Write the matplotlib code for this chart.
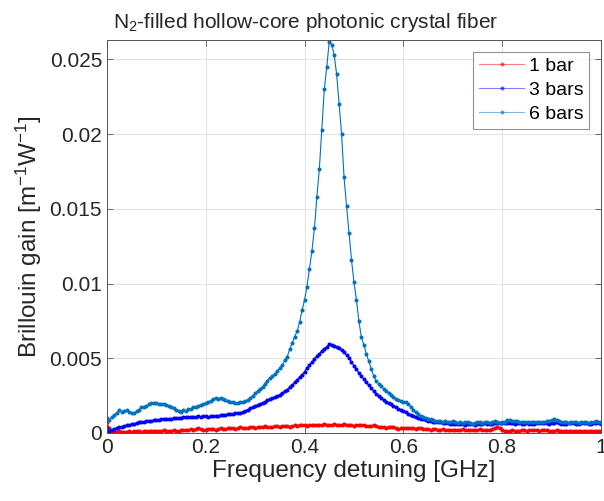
import matplotlib
matplotlib.use('Agg')
import matplotlib.pyplot as plt
import numpy as np
from matplotlib.ticker import FormatStrFormatter

plt.rcParams['font.family'] = ['Liberation Sans', 'DejaVu Sans']
plt.rcParams['mathtext.fontset'] = 'custom'
plt.rcParams['mathtext.rm'] = 'Liberation Sans'
plt.rcParams['mathtext.it'] = 'Liberation Sans:italic'

# frequency detuning grid [GHz], 0.005 GHz step
freq = np.round(np.arange(201) * 0.005, 3)

# Brillouin gain, in units of 1e-3 m^-1 W^-1
gain_1bar = [
    0.70, 0.30, 0.12, 0.08, 0.08, 0.10, 0.08, 0.06, 0.08, 0.10,
    0.08, 0.10, 0.12, 0.10, 0.08, 0.10, 0.12, 0.10, 0.12, 0.14,
    0.12, 0.10, 0.14, 0.16, 0.12, 0.10, 0.14, 0.18, 0.15, 0.12,
    0.18, 0.22, 0.20, 0.18, 0.25, 0.22, 0.28, 0.32, 0.26, 0.22,
    0.20, 0.25, 0.28, 0.24, 0.20, 0.26, 0.30, 0.28, 0.25, 0.30,
    0.35, 0.30, 0.28, 0.32, 0.36, 0.34, 0.30, 0.35, 0.40, 0.38,
    0.34, 0.38, 0.42, 0.40, 0.45, 0.42, 0.38, 0.42, 0.46, 0.44,
    0.40, 0.44, 0.48, 0.45, 0.42, 0.46, 0.50, 0.48, 0.52, 0.55,
    0.50, 0.48, 0.52, 0.50, 0.55, 0.52, 0.50, 0.54, 0.58, 0.55,
    0.52, 0.55, 0.58, 0.56, 0.52, 0.55, 0.58, 0.55, 0.52, 0.50,
    0.48, 0.52, 0.55, 0.52, 0.50, 0.48, 0.45, 0.48, 0.50, 0.46,
    0.40, 0.42, 0.38, 0.35, 0.40, 0.42, 0.38, 0.32, 0.28, 0.32,
    0.35, 0.32, 0.30, 0.34, 0.30, 0.28, 0.32, 0.30, 0.26, 0.28,
    0.25, 0.22, 0.26, 0.24, 0.20, 0.22, 0.25, 0.22, 0.18, 0.22,
    0.20, 0.18, 0.22, 0.20, 0.24, 0.22, 0.18, 0.20, 0.22, 0.18,
    0.20, 0.24, 0.22, 0.20, 0.18, 0.22, 0.28, 0.35, 0.42, 0.32,
    0.22, 0.15, 0.12, 0.14, 0.16, 0.14, 0.12, 0.15, 0.18, 0.16,
    0.14, 0.16, 0.18, 0.20, 0.16, 0.14, 0.18, 0.20, 0.18, 0.15,
    0.12, 0.14, 0.16, 0.14, 0.12, 0.10, 0.12, 0.14, 0.12, 0.10,
    0.12, 0.14, 0.12, 0.10, 0.12, 0.14, 0.12, 0.10, 0.12, 0.14,
    0.12,
]

gain_3bar = [
    0.30, 0.15, 0.18, 0.25, 0.32, 0.38, 0.42, 0.46, 0.50, 0.55,
    0.58, 0.62, 0.66, 0.70, 0.72, 0.74, 0.78, 0.80, 0.82, 0.85,
    0.88, 0.88, 0.90, 0.92, 0.92, 0.94, 0.96, 0.98, 1.00, 1.00,
    1.02, 1.04, 1.05, 1.06, 1.06, 1.08, 1.08, 1.10, 1.09, 1.10,
    1.10, 1.08, 1.10, 1.12, 1.14, 1.15, 1.17, 1.20, 1.22, 1.24,
    1.25, 1.28, 1.30, 1.32, 1.35, 1.40, 1.48, 1.55, 1.65, 1.72,
    1.80, 1.88, 1.95, 2.02, 2.10, 2.18, 2.25, 2.32, 2.40, 2.48,
    2.55, 2.65, 2.78, 2.90, 3.05, 3.20, 3.38, 3.55, 3.72, 3.90,
    4.10, 4.35, 4.55, 4.75, 4.95, 5.12, 5.30, 5.48, 5.62, 5.78,
    5.92, 5.88, 5.82, 5.75, 5.68, 5.55, 5.40, 5.20, 5.00, 4.75,
    4.50, 4.25, 4.02, 3.80, 3.58, 3.38, 3.18, 2.98, 2.80, 2.62,
    2.45, 2.32, 2.20, 2.10, 2.02, 1.92, 1.82, 1.72, 1.62, 1.55,
    1.48, 1.38, 1.28, 1.20, 1.12, 1.05, 1.00, 0.95, 0.90, 0.86,
    0.82, 0.80, 0.76, 0.74, 0.72, 0.70, 0.68, 0.66, 0.64, 0.62,
    0.60, 0.58, 0.62, 0.60, 0.58, 0.56, 0.60, 0.62, 0.58, 0.55,
    0.57, 0.60, 0.62, 0.64, 0.60, 0.58, 0.62, 0.65, 0.68, 0.66,
    0.64, 0.66, 0.68, 0.66, 0.64, 0.62, 0.65, 0.63, 0.60, 0.62,
    0.64, 0.62, 0.60, 0.62, 0.64, 0.66, 0.68, 0.66, 0.64, 0.62,
    0.65, 0.68, 0.70, 0.66, 0.62, 0.60, 0.62, 0.64, 0.66, 0.63,
    0.60, 0.62, 0.64, 0.66, 0.63, 0.60, 0.62, 0.65, 0.67, 0.64,
    0.62,
]

gain_6bar = [
    1.00, 0.87, 1.05, 1.20, 1.35, 1.50, 1.42, 1.48, 1.52, 1.40,
    1.32, 1.30, 1.45, 1.55, 1.70, 1.75, 1.82, 1.90, 1.98, 2.02,
    2.00, 1.95, 1.90, 1.92, 1.85, 1.78, 1.70, 1.66, 1.55, 1.48,
    1.42, 1.50, 1.45, 1.58, 1.62, 1.70, 1.75, 1.82, 1.88, 1.92,
    1.98, 2.05, 2.15, 2.25, 2.32, 2.30, 2.35, 2.28, 2.22, 2.15,
    2.10, 2.05, 1.98, 2.02, 2.10, 2.08, 2.12, 2.20, 2.35, 2.50,
    2.65, 2.80, 2.95, 3.10, 3.30, 3.50, 3.68, 3.80, 3.95, 4.15,
    4.35, 4.55, 4.85, 5.10, 5.60, 6.00, 6.45, 6.80, 7.40, 8.20,
    8.90, 9.80, 11.0, 12.2, 13.7, 15.8, 17.7, 20.3, 23.0, 24.5,
    26.2, 26.0, 25.3, 24.0, 22.0, 20.0, 17.1, 15.2, 13.4, 11.6,
    10.1, 8.90, 7.50, 6.40, 5.90, 5.30, 4.80, 4.30, 3.80, 3.45,
    3.30, 3.15, 2.95, 2.80, 2.70, 2.55, 2.40, 2.30, 2.20, 2.15,
    2.10, 2.05, 1.92, 1.75, 1.55, 1.38, 1.25, 1.15, 1.08, 1.00,
    0.95, 0.90, 0.85, 0.80, 0.82, 0.78, 0.75, 0.80, 0.72, 0.70,
    0.78, 0.74, 0.68, 0.72, 0.65, 0.70, 0.75, 0.68, 0.62, 0.66,
    0.70, 0.72, 0.65, 0.70, 0.74, 0.68, 0.72, 0.78, 0.70, 0.66,
    0.72, 0.75, 0.88, 0.85, 0.80, 0.82, 0.78, 0.75, 0.72, 0.76,
    0.70, 0.72, 0.72, 0.70, 0.74, 0.70, 0.72, 0.75, 0.78, 0.82,
    0.86, 0.90, 0.86, 0.80, 0.74, 0.72, 0.70, 0.68, 0.72, 0.75,
    0.70, 0.68, 0.72, 0.74, 0.70, 0.68, 0.72, 0.75, 0.78, 0.74,
    0.72,
]

series = [
    (gain_1bar, '1 bar', '#ff0000'),
    (gain_3bar, '3 bars', '#0000ff'),
    (gain_6bar, '6 bars', '#0072bd'),
]

fig = plt.figure(figsize=(6.04, 5.01), dpi=100)
ax = fig.add_axes([0.177, 0.136, 0.818, 0.784])

for vals, label, color in series:
    ax.plot(freq, np.array(vals) * 1e-3, color=color, lw=0.8,
            marker='.', ms=3.8, label=label)

ax.set_xlim(0, 1)
ax.set_ylim(0, 0.0263)
ax.set_xticks([0, 0.2, 0.4, 0.6, 0.8, 1])
ax.set_yticks([0, 0.005, 0.01, 0.015, 0.02, 0.025])
ax.xaxis.set_major_formatter(FormatStrFormatter('%g'))
ax.yaxis.set_major_formatter(FormatStrFormatter('%g'))

ax.grid(True, color='#e3e3e3', lw=0.8)
ax.set_axisbelow(True)
ax.tick_params(direction='in', length=4, width=0.6, colors='#555555',
               labelcolor='#262626', labelsize=15, top=True, right=True)
for sp in ax.spines.values():
    sp.set_color('#555555')
    sp.set_linewidth(0.7)

ax.set_xlabel('Frequency detuning [GHz]', fontsize=17.5, color='#262626', labelpad=2)
ax.set_ylabel(r'Brillouin gain [m$^{\mathregular{-1}}$W$^{\mathregular{-1}}$]',
              fontsize=17.5, color='#262626', labelpad=4)
ax.set_title(r'N$_{\mathregular{2}}$-filled hollow-core photonic crystal fiber',
             fontsize=15, color='#262626', pad=9, x=0.403)

leg = ax.legend(loc='upper right', fontsize=14, frameon=True, fancybox=False,
                edgecolor='#777777', borderaxespad=0.6, handlelength=2.3,
                labelspacing=0.32, borderpad=0.3, handletextpad=0.25)
leg.get_frame().set_linewidth(0.8)
for h in leg.get_lines():
    h.set_alpha(0.5)

fig.savefig('out.png', dpi=100)
